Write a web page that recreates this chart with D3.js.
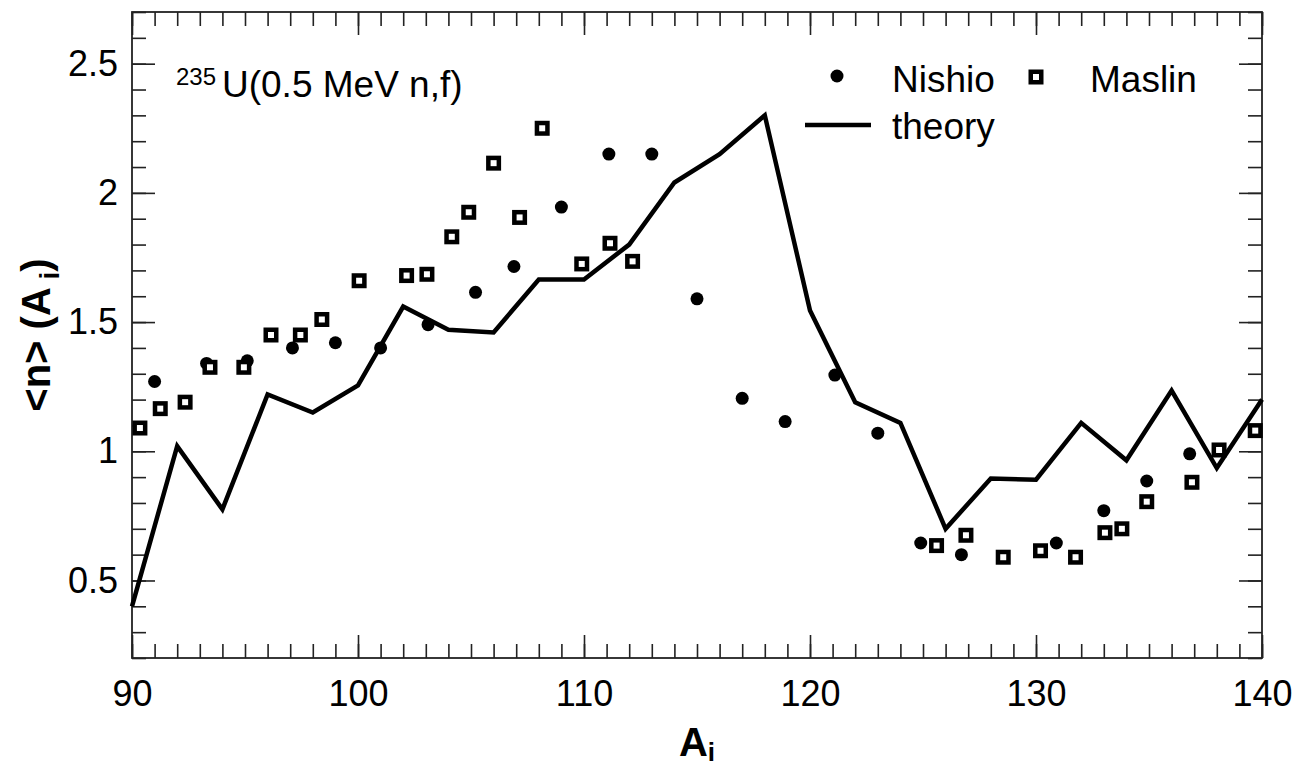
<!DOCTYPE html>
<html lang="en">
<head>
    <meta charset="utf-8">
    <script src="https://d3js.org/d3.v7.min.js"></script>
    <style>
        body { margin: 0; background: #fff; }
        text { font-family: "Liberation Sans", Arial, Helvetica, sans-serif; fill: #000; }
    </style>
</head>
<body>
<div id="my_dataviz"></div>

<script>
    // theory curve (every 2 mass units)
    var theoryA = [90, 92, 94, 96, 98, 100, 102, 104, 106, 108, 110, 112, 114, 116, 118, 120, 122, 124, 126, 128, 130, 132, 134, 136, 138, 140];
    var theoryN = [0.40, 1.02, 0.775, 1.22, 1.15, 1.255, 1.56, 1.47, 1.46, 1.665, 1.665, 1.80, 2.04, 2.15, 2.30, 1.545, 1.19, 1.11, 0.70, 0.895, 0.89, 1.11, 0.965, 1.235, 0.935, 1.20];

    // Nishio data
    var nishioA = [91.0, 93.3, 95.1, 97.1, 99.0, 101.0, 103.1, 105.2, 106.9, 109.0, 111.1, 113.0, 115.0, 117.0, 118.9, 121.1, 123.0, 124.9, 126.7, 130.9, 133.0, 134.9, 136.8];
    var nishioN = [1.27, 1.34, 1.35, 1.40, 1.42, 1.40, 1.49, 1.615, 1.715, 1.945, 2.15, 2.15, 1.59, 1.205, 1.115, 1.295, 1.07, 0.645, 0.60, 0.645, 0.77, 0.885, 0.99];

    // Maslin data
    var maslinA = [90.35, 91.25, 92.35, 93.45, 94.95, 96.15, 97.45, 98.4, 100.05, 102.15, 103.05, 104.15, 104.9, 106.0, 107.15, 108.15, 109.9, 111.15, 112.15, 125.6, 126.9, 128.55, 130.2, 131.75, 133.05, 133.8, 134.9, 136.9, 138.1, 139.7];
    var maslinN = [1.09, 1.165, 1.19, 1.325, 1.325, 1.45, 1.45, 1.51, 1.66, 1.68, 1.685, 1.83, 1.925, 2.115, 1.905, 2.25, 1.725, 1.805, 1.735, 0.635, 0.675, 0.59, 0.615, 0.59, 0.685, 0.70, 0.805, 0.88, 1.005, 1.08];

    var xMajor = [90, 100, 110, 120, 130, 140];
    var yMajor = [0.5, 1, 1.5, 2, 2.5];

    var width = 1296, height = 770;
    var plot = {left: 132, right: 1262, top: 12, bottom: 658};

    var svg = d3.select("#my_dataviz")
        .append("svg")
        .attr("width", width)
        .attr("height", height);

    var x = d3.scaleLinear().domain([90, 140]).range([plot.left, plot.right]);
    var y = d3.scaleLinear().domain([0.2, 2.7]).range([plot.bottom, plot.top]);

    var xMinor = d3.range(90, 141, 1);
    var yMinor = d3.range(2, 28).map(function (d) { return d / 10; });

    function styleAxis(g) {
        g.select(".domain").remove();
        g.selectAll("line").attr("stroke", "#222").attr("stroke-width", 1.6);
        g.selectAll("text").style("font-size", "36px").attr("fill", "#000");
    }

    // minor ticks, all pointing inward
    svg.append("g").attr("transform", "translate(0," + plot.bottom + ")")
        .call(d3.axisBottom(x).tickValues(xMinor).tickSize(-14).tickFormat(""))
        .call(styleAxis);
    svg.append("g").attr("transform", "translate(0," + plot.top + ")")
        .call(d3.axisTop(x).tickValues(xMinor).tickSize(-14).tickFormat(""))
        .call(styleAxis);
    svg.append("g").attr("transform", "translate(" + plot.left + ",0)")
        .call(d3.axisLeft(y).tickValues(yMinor).tickSize(-14).tickFormat(""))
        .call(styleAxis);
    svg.append("g").attr("transform", "translate(" + plot.right + ",0)")
        .call(d3.axisRight(y).tickValues(yMinor).tickSize(-14).tickFormat(""))
        .call(styleAxis);

    // major ticks + labels
    svg.append("g").attr("transform", "translate(0," + plot.bottom + ")")
        .call(d3.axisBottom(x).tickValues(xMajor).tickSize(-23).tickPadding(22).tickFormat(d3.format("d")))
        .call(styleAxis);
    svg.append("g").attr("transform", "translate(0," + plot.top + ")")
        .call(d3.axisTop(x).tickValues(xMajor).tickSize(-23).tickFormat(""))
        .call(styleAxis);
    svg.append("g").attr("transform", "translate(" + plot.left + ",0)")
        .call(d3.axisLeft(y).tickValues(yMajor).tickSize(-23).tickPadding(14).tickFormat(d3.format("~g")))
        .call(styleAxis);
    svg.append("g").attr("transform", "translate(" + plot.right + ",0)")
        .call(d3.axisRight(y).tickValues(yMajor).tickSize(-23).tickFormat(""))
        .call(styleAxis);

    // frame
    svg.append("rect")
        .attr("x", plot.left).attr("y", plot.top)
        .attr("width", plot.right - plot.left)
        .attr("height", plot.bottom - plot.top)
        .attr("fill", "none")
        .attr("stroke", "#222")
        .attr("stroke-width", 1.8);

    // theory line
    var line = d3.line()
        .x(function (d, i) { return x(theoryA[i]); })
        .y(function (d) { return y(d); });

    svg.append("path")
        .datum(theoryN)
        .attr("d", line)
        .attr("fill", "none")
        .attr("stroke", "#000")
        .attr("stroke-width", 4.5)
        .attr("stroke-linejoin", "miter");

    // Nishio dots
    svg.selectAll(".nishio")
        .data(nishioN)
        .enter()
        .append("circle")
        .attr("class", "nishio")
        .attr("cx", function (d, i) { return x(nishioA[i]); })
        .attr("cy", function (d) { return y(d); })
        .attr("r", 6.5)
        .attr("fill", "#000");

    // Maslin squares
    var sq = 10.5;
    svg.selectAll(".maslin")
        .data(maslinN)
        .enter()
        .append("rect")
        .attr("class", "maslin")
        .attr("x", function (d, i) { return x(maslinA[i]) - sq / 2; })
        .attr("y", function (d) { return y(d) - sq / 2; })
        .attr("width", sq)
        .attr("height", sq)
        .attr("fill", "#fff")
        .attr("stroke", "#000")
        .attr("stroke-width", 4.5);

    // legend
    svg.append("circle").attr("cx", 837).attr("cy", 76).attr("r", 6.5).attr("fill", "#000");
    svg.append("text").attr("x", 892).attr("y", 92).style("font-size", "37px").text("Nishio");
    svg.append("rect").attr("x", 1036 - sq / 2).attr("y", 77 - sq / 2).attr("width", sq).attr("height", sq)
        .attr("fill", "#fff").attr("stroke", "#000").attr("stroke-width", 4.5);
    svg.append("text").attr("x", 1090).attr("y", 92).style("font-size", "37px").text("Maslin");
    svg.append("line").attr("x1", 805).attr("x2", 871).attr("y1", 125).attr("y2", 125)
        .attr("stroke", "#000").attr("stroke-width", 4.5);
    svg.append("text").attr("x", 892).attr("y", 139).style("font-size", "37px").text("theory");

    // reaction label
    svg.append("text").attr("x", 176).attr("y", 85).style("font-size", "24px").text("235");
    svg.append("text").attr("x", 222).attr("y", 97).style("font-size", "37px").text("U(0.5 MeV n,f)");

    // axis titles
    var xt = svg.append("text")
        .attr("x", (plot.left + plot.right) / 2)
        .attr("y", 756)
        .attr("text-anchor", "middle")
        .style("font-size", "40px")
        .style("font-weight", "bold");
    xt.append("tspan").text("A");
    xt.append("tspan").attr("dy", 5).style("font-size", "26px").text("i");

    var yt = svg.append("text")
        .attr("transform", "translate(50," + ((plot.top + plot.bottom) / 2) + ") rotate(-90)")
        .attr("text-anchor", "middle")
        .style("font-size", "40px")
        .style("font-weight", "bold");
    yt.append("tspan").text("<n> (A");
    yt.append("tspan").attr("dy", 9).style("font-size", "28px").text(" i");
    yt.append("tspan").attr("dy", -9).text(")");
</script>
</body>
</html>
